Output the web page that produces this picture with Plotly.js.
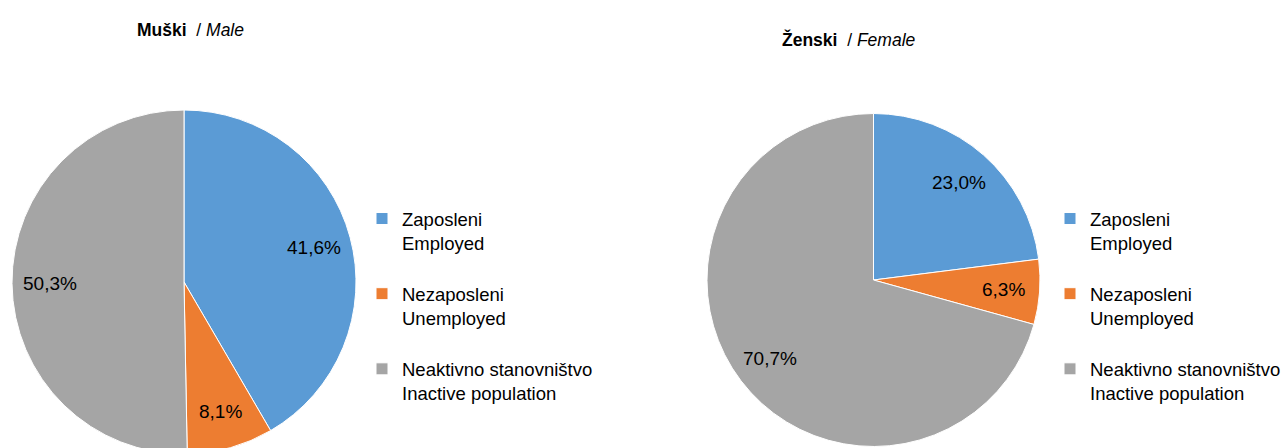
<!DOCTYPE html>
<html>
<head>
<meta charset="utf-8">
<script src="https://cdn.plot.ly/plotly-3.0.1.min.js"></script>
<style>
html, body { margin:0; padding:0; overflow:hidden; background:#fff; }
#chart { width:1330px; height:460px; }
</style>
</head>
<body>
<div id="chart"></div>
<script>
// ---- data ----
const categories = ['Zaposleni<br>Employed<br> ', 'Nezaposleni<br>Unemployed<br> ', 'Neaktivno stanovništvo<br>Inactive population'];
const maleValues = [41.6, 8.1, 50.3];
const femaleValues = [23.0, 6.3, 70.7];
const maleTitle = '<b>Muški</b>  / <i>Male</i>';
const femaleTitle = '<b>Ženski</b>  / <i>Female</i>';
const colors = ['#5B9BD5', '#ED7D31', '#A5A5A5'];

// canvas slightly larger than the 1285x448 window so nothing gets squeezed;
// the window crops it exactly like the reference is cropped
const W = 1330, H = 460;
const fmt = v => v.toFixed(1).replace('.', ',') + '%';
const FONT = 'Liberation Sans, Arial, sans-serif';
const px = x => x / W;
const py = y => 1 - y / H;

// pie geometry (pixels): centre and radius
const malePie = {cx: 184, cy: 282, r: 172};
const femalePie = {cx: 873.5, cy: 280, r: 166.5};
const LABEL_R = 0.78;

function pie(values, labels, g, legendId) {
  return {
    type: 'pie',
    labels: labels,
    values: values,
    textinfo: 'none',
    sort: false,
    direction: 'clockwise',
    rotation: 0,
    marker: {colors: colors, line: {color: '#ffffff', width: 1}},
    domain: {x: [px(g.cx - g.r), px(g.cx + g.r)], y: [py(g.cy + g.r), py(g.cy - g.r)]},
    legend: legendId,
    hoverinfo: 'label+percent'
  };
}

// data-driven label positions along each slice's bisector
function labelAnnotations(values, g) {
  const total = values.reduce((a, b) => a + b, 0);
  let cum = 0;
  return values.map(v => {
    const mid = (cum + v / 2) / total * 2 * Math.PI;
    cum += v;
    const x = g.cx + LABEL_R * g.r * Math.sin(mid);
    const y = g.cy - LABEL_R * g.r * Math.cos(mid);
    return {text: fmt(v), x: px(x), y: py(y), xref: 'paper', yref: 'paper', showarrow: false,
            xanchor: 'center', yanchor: 'middle', font: {family: FONT, size: 19, color: '#000'}};
  });
}

const femaleLabels = categories.map(c => c + '\u200B');

const data = [
  pie(maleValues, categories, malePie, 'legend'),
  pie(femaleValues, femaleLabels, femalePie, 'legend2')
];

const legendBase = {
  font: {family: FONT, size: 18.5, color: '#000'},
  bgcolor: 'rgba(0,0,0,0)',
  valign: 'top',
  traceorder: 'normal',
  yanchor: 'top',
  xanchor: 'left'
};

const layout = {
  width: W, height: H,
  margin: {l: 0, r: 0, t: 0, b: 0},
  paper_bgcolor: '#fff',
  showlegend: true,
  legend: Object.assign({}, legendBase, {x: px(362), y: py(200)}),
  legend2: Object.assign({}, legendBase, {x: px(1050), y: py(200)}),
  annotations: [
    {text: maleTitle, x: px(190), y: py(30), xref: 'paper', yref: 'paper', showarrow: false,
     font: {family: FONT, size: 17.5, color: '#000'}, xanchor: 'center', yanchor: 'middle'},
    {text: femaleTitle, x: px(849), y: py(40), xref: 'paper', yref: 'paper', showarrow: false,
     font: {family: FONT, size: 17.5, color: '#000'}, xanchor: 'center', yanchor: 'middle'}
  ].concat(labelAnnotations(maleValues, malePie), labelAnnotations(femaleValues, femalePie))
};

Plotly.newPlot('chart', data, layout, {displayModeBar: false, staticPlot: true});
</script>
</body>
</html>
